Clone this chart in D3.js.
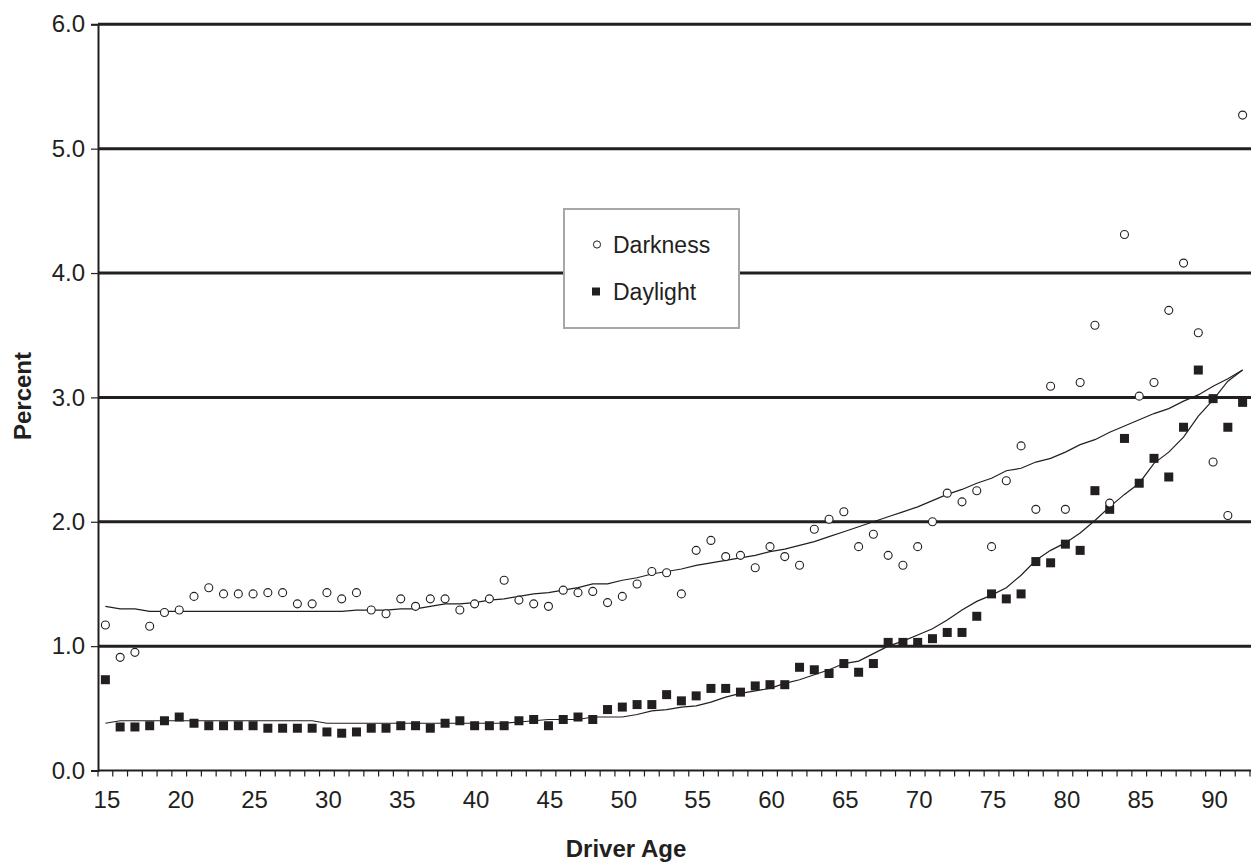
<!DOCTYPE html>
<html>
<head>
<meta charset="utf-8">
<script src="https://cdn.jsdelivr.net/npm/d3@7"></script>
<style>
  html, body { margin: 0; padding: 0; background: #fff; }
  svg { display: block; font-family: "Liberation Sans", Arial, Helvetica, sans-serif; }
</style>
</head>
<body>
<svg id="chart" width="1251" height="865"></svg>
<script>
// Driver age categories (one per year of age)
const ages = [15,16,17,18,19,20,21,22,23,24,25,26,27,28,29,30,31,32,33,34,35,36,37,38,39,40,
  41,42,43,44,45,46,47,48,49,50,51,52,53,54,55,56,57,58,59,60,61,62,63,64,65,66,67,68,69,70,
  71,72,73,74,75,76,77,78,79,80,81,82,83,84,85,86,87,88,89,90,91,92];

// Percent of crashes, by driver age
const darkness = [1.17,0.91,0.95,1.16,1.27,1.29,1.40,1.47,1.42,1.42,1.42,1.43,1.43,1.34,1.34,
  1.43,1.38,1.43,1.29,1.26,1.38,1.32,1.38,1.38,1.29,1.34,1.38,1.53,1.37,1.34,1.32,1.45,1.43,
  1.44,1.35,1.40,1.50,1.60,1.59,1.42,1.77,1.85,1.72,1.73,1.63,1.80,1.72,1.65,1.94,2.02,2.08,
  1.80,1.90,1.73,1.65,1.80,2.00,2.23,2.16,2.25,1.80,2.33,2.61,2.10,3.09,2.10,3.12,3.58,2.15,
  4.31,3.01,3.12,3.70,4.08,3.52,2.48,2.05,5.27];

const daylight = [0.73,0.35,0.35,0.36,0.40,0.43,0.38,0.36,0.36,0.36,0.36,0.34,0.34,0.34,0.34,
  0.31,0.30,0.31,0.34,0.34,0.36,0.36,0.34,0.38,0.40,0.36,0.36,0.36,0.40,0.41,0.36,0.41,0.43,
  0.41,0.49,0.51,0.53,0.53,0.61,0.56,0.60,0.66,0.66,0.63,0.68,0.69,0.69,0.83,0.81,0.78,0.86,
  0.79,0.86,1.03,1.03,1.03,1.06,1.11,1.11,1.24,1.42,1.38,1.42,1.68,1.67,1.82,1.77,2.25,2.10,
  2.67,2.31,2.51,2.36,2.76,3.22,2.99,2.76,2.96];

// Smoothed trend for each series
const darknessTrend = [1.32,1.30,1.30,1.28,1.28,1.28,1.28,1.28,1.28,1.28,1.28,1.28,1.28,1.28,
  1.28,1.28,1.28,1.29,1.29,1.29,1.30,1.30,1.32,1.34,1.34,1.35,1.37,1.38,1.40,1.42,1.43,1.45,
  1.47,1.50,1.50,1.53,1.55,1.58,1.60,1.62,1.65,1.67,1.69,1.71,1.73,1.76,1.78,1.81,1.84,1.88,
  1.92,1.96,2.00,2.04,2.08,2.12,2.17,2.22,2.26,2.31,2.35,2.41,2.43,2.48,2.51,2.56,2.62,2.66,
  2.72,2.77,2.82,2.87,2.91,2.97,3.02,3.09,3.15,3.22];

const daylightTrend = [0.38,0.40,0.40,0.40,0.40,0.40,0.40,0.40,0.40,0.40,0.40,0.40,0.40,0.40,
  0.40,0.38,0.38,0.38,0.38,0.38,0.38,0.38,0.38,0.38,0.38,0.38,0.38,0.38,0.39,0.40,0.41,0.41,
  0.41,0.43,0.43,0.43,0.45,0.48,0.49,0.51,0.52,0.55,0.59,0.62,0.64,0.66,0.70,0.73,0.77,0.81,
  0.86,0.88,0.94,1.00,1.04,1.09,1.14,1.21,1.29,1.36,1.41,1.47,1.57,1.69,1.77,1.83,1.91,2.01,
  2.12,2.22,2.31,2.47,2.56,2.68,2.85,2.98,3.13,3.22];

const yTicks = [0,1,2,3,4,5,6];
const xLabelAges = [15,20,25,30,35,40,45,50,55,60,65,70,75,80,85,90];

const ink = "#231f20";
const svg = d3.select("#chart");

const x = d3.scaleBand().domain(ages).range([98, 1250]).paddingInner(0).paddingOuter(0);
const xc = a => x(a) + x.bandwidth() / 2;
const y = d3.scaleLinear().domain([0, 6]).range([770.5, 24.3]);

// Horizontal gridlines
svg.append("g").selectAll("line")
  .data(yTicks.filter(v => v > 0))
  .join("line")
  .attr("x1", 98).attr("x2", 1251)
  .attr("y1", d => y(d)).attr("y2", d => y(d))
  .attr("stroke", ink).attr("stroke-width", 3);

// Y axis
const yAxis = svg.append("g")
  .attr("transform", "translate(98,0)")
  .call(d3.axisLeft(y).tickValues(yTicks).tickSize(7).tickPadding(6).tickFormat(d3.format(".1f")));
yAxis.select(".domain").attr("stroke", ink).attr("stroke-width", 2);
yAxis.selectAll(".tick line").attr("stroke", ink).attr("stroke-width", 1.2);
yAxis.selectAll(".tick text").attr("fill", ink).style("font-size", "24px")
  .style("font-family", "'Liberation Sans', Arial, sans-serif");

// X axis: tick marks on category boundaries, labels every 5 years
const xg = svg.append("g").attr("transform", "translate(0,770.5)");
xg.append("line").attr("x1", 98).attr("x2", 1251).attr("y1", 0).attr("y2", 0)
  .attr("stroke", ink).attr("stroke-width", 2);
const bounds = ages.map(a => x(a)).concat([x(ages[ages.length - 1]) + x.bandwidth()]);
xg.selectAll("line.tk").data(bounds).join("line").attr("class", "tk")
  .attr("x1", d => d).attr("x2", d => d).attr("y1", 0).attr("y2", 6)
  .attr("stroke", ink).attr("stroke-width", 1.2);
const xAxis = svg.append("g").attr("transform", "translate(1.5,770.5)")
  .call(d3.axisBottom(x).tickValues(xLabelAges).tickSize(0).tickPadding(20));
xAxis.select(".domain").remove();
xAxis.selectAll(".tick text").attr("fill", ink).style("font-size", "24px")
  .style("font-family", "'Liberation Sans', Arial, sans-serif");

// Trend lines
const line = d3.line().x((d, i) => xc(ages[i])).y(d => y(d));
svg.append("path").attr("d", line(darknessTrend))
  .attr("fill", "none").attr("stroke", ink).attr("stroke-width", 1.2);
svg.append("path").attr("d", line(daylightTrend))
  .attr("fill", "none").attr("stroke", ink).attr("stroke-width", 1.2);

// Daylight markers (filled squares)
const sq = 9;
svg.append("g").selectAll("rect")
  .data(daylight)
  .join("rect")
  .attr("x", (d, i) => xc(ages[i]) - sq / 2)
  .attr("y", d => y(d) - sq / 2)
  .attr("width", sq).attr("height", sq)
  .attr("fill", ink);

// Darkness markers (open circles)
svg.append("g").selectAll("circle")
  .data(darkness)
  .join("circle")
  .attr("cx", (d, i) => xc(ages[i]))
  .attr("cy", d => y(d))
  .attr("r", 4)
  .attr("fill", "#fff").attr("stroke", ink).attr("stroke-width", 1.1);

// Legend
const lg = svg.append("g");
lg.append("rect").attr("x", 564).attr("y", 209).attr("width", 175).attr("height", 119)
  .attr("fill", "#fff").attr("stroke", "#a7a7a7").attr("stroke-width", 2);
lg.append("circle").attr("cx", 597).attr("cy", 244.5).attr("r", 3.6)
  .attr("fill", "#fff").attr("stroke", ink).attr("stroke-width", 1);
lg.append("text").attr("x", 613).attr("y", 253).text("Darkness")
  .attr("fill", ink).style("font-size", "23px");
lg.append("rect").attr("x", 592).attr("y", 287.5).attr("width", 8).attr("height", 8).attr("fill", ink);
lg.append("text").attr("x", 613).attr("y", 299.5).text("Daylight")
  .attr("fill", ink).style("font-size", "23px");

// Axis titles
svg.append("text").attr("transform", "translate(31,396) rotate(-90)")
  .attr("text-anchor", "middle").attr("fill", ink)
  .style("font-size", "24px").style("font-weight", "bold").text("Percent");
svg.append("text").attr("x", 626).attr("y", 857)
  .attr("text-anchor", "middle").attr("fill", ink)
  .style("font-size", "24px").style("font-weight", "bold").text("Driver Age");
</script>
</body>
</html>
